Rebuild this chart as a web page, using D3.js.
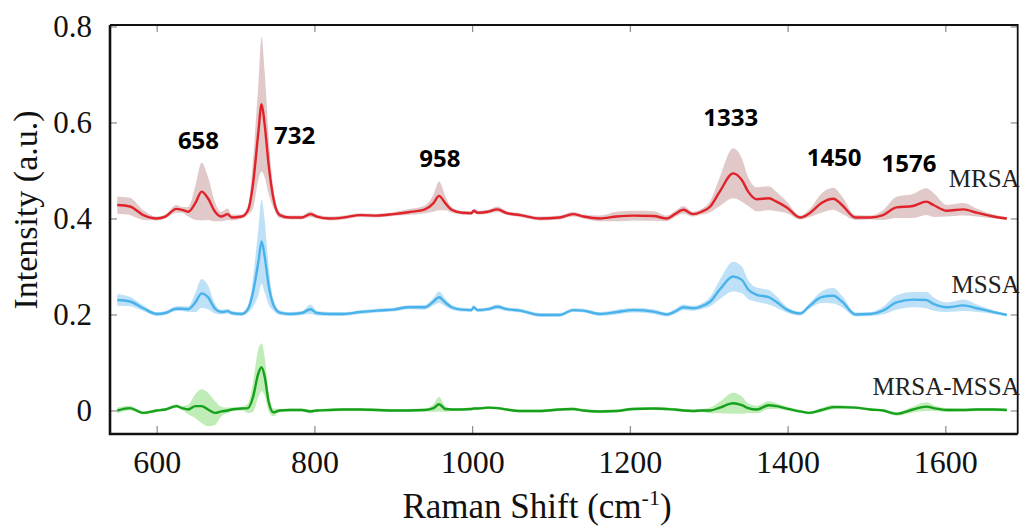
<!DOCTYPE html>
<html>
<head>
<meta charset="utf-8">
<script src="https://cdn.jsdelivr.net/npm/d3@7"></script>
<style>
  body { margin: 0; background: #fff; }
</style>
</head>
<body>
<svg id="chart"></svg>
<script>
// Raman shift grid (cm-1) shared by every series
const shift = [550,566,583,600,611,625,632,640,649,657,665,674,682,690,695,708,716,722,729,733,
  737,742,748,756,769,784,795,803,820,837,858,879,900,919,940,951,958,966,974,987,
  999,1002,1007,1020,1032,1044,1061,1086,1111,1128,1141,1162,1183,1204,1230,1247,1257,1268,1280,1291,
  1302,1314,1331,1342,1350,1361,1376,1386,1399,1416,1428,1443,1458,1469,1486,1505,1521,1538,1559,1576,
  1585,1602,1623,1640,1661,1678];

// mean spectra (offset) and their spread
const mrsa = [.428,.425,.407,.400,.404,.420,.418,.414,.432,.456,.442,.414,.404,.409,.402,.404,.418,.470,.581,.638,
  .595,.511,.442,.407,.402,.402,.409,.404,.400,.402,.407,.406,.409,.413,.419,.432,.447,.432,.418,.412,
  .411,.416,.412,.414,.419,.411,.407,.400,.402,.409,.404,.400,.404,.406,.405,.400,.409,.418,.409,.414,
  .425,.456,.494,.480,.456,.440,.442,.435,.423,.402,.411,.432,.441,.428,.402,.402,.407,.423,.426,.435,
  .428,.416,.419,.412,.404,.400];
const mrsaSd = [.018,.018,.010,.004,.004,.008,.006,.010,.035,.060,.045,.020,.010,.012,.006,.004,.010,.050,.100,.140,
  .110,.060,.020,.006,.004,.004,.006,.004,.004,.004,.004,.004,.004,.006,.008,.018,.030,.015,.006,.004,
  .004,.004,.004,.004,.006,.004,.004,.004,.004,.005,.004,.006,.010,.010,.010,.006,.006,.008,.005,.006,
  .012,.030,.052,.045,.030,.025,.025,.020,.012,.004,.008,.020,.023,.018,.005,.004,.010,.022,.025,.028,
  .025,.012,.013,.008,.004,.003];

const mssa = [.230,.227,.213,.201,.203,.212,.212,.211,.225,.244,.236,.212,.205,.207,.203,.201,.212,.245,.310,.352,
  .320,.260,.220,.204,.201,.203,.211,.203,.201,.201,.205,.208,.210,.215,.215,.227,.236,.225,.215,.210,
  .209,.215,.209,.211,.216,.211,.208,.199,.199,.209,.208,.201,.205,.209,.206,.200,.206,.215,.213,.217,
  .227,.252,.279,.272,.252,.241,.236,.226,.210,.202,.218,.236,.239,.227,.200,.201,.208,.225,.231,.230,
  .222,.215,.219,.213,.205,.199];
const mssaSd = [.012,.010,.006,.004,.004,.005,.005,.006,.020,.030,.025,.010,.005,.005,.004,.004,.008,.030,.070,.088,
  .075,.040,.012,.005,.004,.004,.010,.005,.004,.004,.004,.004,.004,.004,.005,.008,.012,.008,.005,.004,
  .004,.004,.004,.004,.005,.004,.004,.004,.004,.004,.004,.004,.005,.005,.005,.004,.005,.006,.005,.006,
  .010,.020,.031,.028,.020,.015,.015,.012,.006,.004,.006,.012,.016,.012,.004,.004,.008,.015,.016,.017,
  .014,.010,.012,.008,.004,.003];

const diff = [.000,.005,-.005,.000,.002,.009,.005,.002,.009,.009,.002,-.005,-.002,.000,.002,.004,.005,.027,.078,.090,
  .070,.018,-.004,.000,.001,.001,-.002,.000,.001,.002,.002,.001,.000,.000,.001,.005,.013,.003,.002,.002,
  .003,.004,.004,.006,.005,.002,-.001,-.001,.002,.003,.000,-.002,-.001,.003,.004,.003,.002,.000,-.001,.000,
  .000,.006,.015,.011,.005,.002,.011,.009,.004,-.002,-.005,.001,.007,.007,.006,.002,.000,-.007,.002,.008,
  .005,.001,.001,.002,.002,.001];
const diffSd = [.006,.005,.003,.003,.003,.004,.004,.010,.025,.035,.035,.025,.010,.006,.004,.004,.010,.030,.050,.050,
  .040,.020,.008,.003,.003,.003,.004,.003,.003,.003,.003,.003,.003,.003,.003,.008,.015,.006,.003,.003,
  .003,.003,.003,.003,.003,.003,.003,.003,.003,.003,.003,.003,.003,.003,.003,.003,.003,.003,.003,.003,
  .006,.012,.022,.018,.010,.008,.008,.006,.004,.003,.003,.004,.005,.004,.003,.003,.003,.004,.006,.009,
  .006,.004,.003,.003,.003,.003];

const seriesNames = ["MRSA", "MSSA", "MRSA-MSSA"];
const peakLabels = ["658", "732", "958", "1333", "1450", "1576"];
const xTicks = [600, 800, 1000, 1200, 1400, 1600];
const yTicks = [0, 0.2, 0.4, 0.6, 0.8];

const W = 1026, H = 526;
const box = { left: 110, right: 1017.7, top: 25, bottom: 434 };
const serif = "'Liberation Serif', 'Times New Roman', Times, serif";
const sans = "'Open Sans', 'Noto Sans', sans-serif";

const svg = d3.select("#chart").attr("width", W).attr("height", H);

const x = d3.scaleLinear().domain([540.8, 1691.8]).range([box.left, box.right]);
const y = d3.scaleLinear().domain([-0.049, 0.803]).range([box.bottom, box.top]);

const series = [
  { name: seriesNames[0], mean: mrsa, sd: mrsaSd, line: "#e0232a", band: "#dcc0c0" },
  { name: seriesNames[1], mean: mssa, sd: mssaSd, line: "#48b2ea", band: "#b4dcf6" },
  { name: seriesNames[2], mean: diff, sd: diffSd, line: "#16a01c", band: "#b4e9aa" }
];

const area = d3.area()
  .x(d => x(d.x))
  .y0(d => y(d.m - d.s))
  .y1(d => y(d.m + d.s))
  .curve(d3.curveMonotoneX);

const line = d3.line()
  .x(d => x(d.x))
  .y(d => y(d.m))
  .curve(d3.curveMonotoneX);

const plot = svg.append("g");

series.forEach(s => {
  const pts = shift.map((v, i) => ({ x: v, m: s.mean[i], s: s.sd[i] }));
  plot.append("path").datum(pts)
    .attr("d", area)
    .attr("fill", s.band)
    .attr("opacity", 0.85);
  plot.append("path").datum(pts)
    .attr("d", line)
    .attr("fill", "none")
    .attr("stroke", s.line)
    .attr("stroke-width", 2.4);
});

// axes, ticks pointing inward
const tickColor = "#8a8a8a";

const xAxisB = svg.append("g")
  .attr("transform", `translate(0,${box.bottom})`)
  .call(d3.axisBottom(x).tickValues(xTicks).tickSizeInner(-8).tickSizeOuter(0).tickPadding(16).tickFormat(d3.format("d")));
const xAxisT = svg.append("g")
  .attr("transform", `translate(0,${box.top})`)
  .call(d3.axisTop(x).tickValues(xTicks).tickSizeInner(-7).tickSizeOuter(0).tickFormat(""));
const yAxisL = svg.append("g")
  .attr("transform", `translate(${box.left},0)`)
  .call(d3.axisLeft(y).tickValues(yTicks).tickSizeInner(-7).tickSizeOuter(0).tickPadding(18).tickFormat(d => d === 0 ? "0" : d3.format(".1f")(d)));
const yAxisR = svg.append("g")
  .attr("transform", `translate(${box.right},0)`)
  .call(d3.axisRight(y).tickValues(yTicks).tickSizeInner(-7).tickSizeOuter(0).tickFormat(""));

[xAxisB, xAxisT, yAxisL, yAxisR].forEach(g => {
  g.attr("font-family", null);
  g.select(".domain").remove();
  g.selectAll(".tick line").attr("stroke", tickColor).attr("stroke-width", 1.2);
  g.selectAll(".tick text").attr("fill", "#111").style("font-family", serif);
});
xAxisB.selectAll(".tick text").style("font-size", "32px");
yAxisL.selectAll(".tick text").style("font-size", "31px");

// frame
svg.append("path")
  .attr("d", `M${box.left},${box.top}H${box.right}V${box.bottom}`)
  .attr("fill", "none").attr("stroke", "#111").attr("stroke-width", 1.8);
svg.append("path")
  .attr("d", `M${box.left},${box.top}V${box.bottom}H${box.right}`)
  .attr("fill", "none").attr("stroke", "#111").attr("stroke-width", 2.6);

// axis titles
const xt = svg.append("text")
  .attr("x", 537).attr("y", 518)
  .attr("text-anchor", "middle")
  .style("font-family", serif)
  .style("font-size", "35px")
  .attr("fill", "#111");
xt.append("tspan").text("Raman Shift (cm");
xt.append("tspan").text("-1").style("font-size", "22px").attr("dy", -13);
xt.append("tspan").text(")").attr("dy", 13);

svg.append("text")
  .attr("transform", "translate(37,210) rotate(-90)")
  .attr("text-anchor", "middle")
  .style("font-family", serif)
  .style("font-size", "34px")
  .attr("fill", "#111")
  .text("Intensity (a.u.)");

// series labels, right aligned at the frame
const seriesLabelY = [0.466, 0.244, 0.033];
series.forEach((s, i) => {
  svg.append("text")
    .attr("x", box.right + 2)
    .attr("y", y(seriesLabelY[i]))
    .attr("text-anchor", "end")
    .style("font-family", serif)
    .style("font-size", "25px")
    .attr("fill", "#222")
    .text(s.name);
});

// peak annotations: [x centre in cm-1, baseline in intensity units]
const peakPos = [[653, 0.545], [775, 0.555], [959, 0.508], [1328, 0.592], [1459, 0.509], [1554, 0.497]];
peakLabels.forEach((t, i) => {
  svg.append("text")
    .attr("x", x(peakPos[i][0]))
    .attr("y", y(peakPos[i][1]))
    .attr("text-anchor", "middle")
    .style("font-family", sans)
    .style("font-weight", 700)
    .style("font-size", "24px")
    .attr("fill", "#000")
    .text(t);
});
</script>
</body>
</html>
